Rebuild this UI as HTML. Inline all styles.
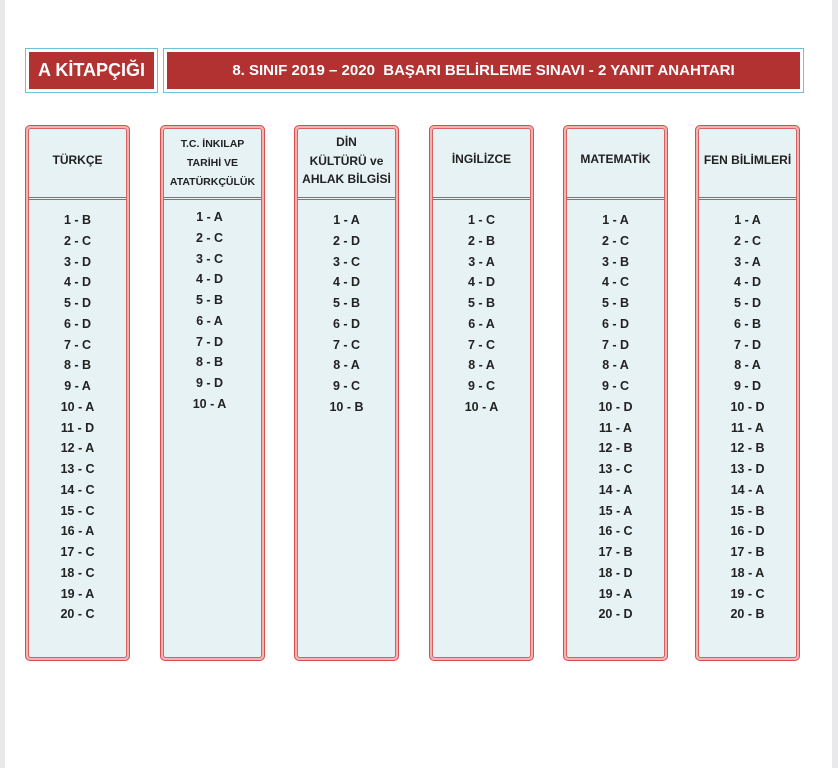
<!DOCTYPE html>
<html><head><meta charset="utf-8"><style>
body{margin:0;width:838px;height:768px;background:#fff;position:relative;overflow:hidden;font-family:"Liberation Sans",Arial,sans-serif;font-weight:bold;color:#222}
.edgeL{position:absolute;left:0;top:0;width:5px;height:768px;background:#e9e9ec}
.edgeR{position:absolute;right:0;top:0;width:6px;height:768px;background:#e9e9ec}
.hb{position:absolute;border:1px solid #6cc3d8;padding:3px;box-sizing:border-box}
.hb div{background:#b23232;color:#fff;height:100%;display:flex;align-items:center;justify-content:center}
.col{position:absolute;top:125px;width:105px;height:536px;box-sizing:border-box;border:1px solid #d84c4c;background:#f2b3b3;padding:2px;border-radius:5px}
.in{width:100%;height:100%;box-sizing:border-box;border:1px solid #d86060;background:#e7f2f5;border-radius:3px;position:relative}
.hd{position:absolute;left:0;right:0;top:0;height:71px;box-sizing:border-box;display:flex;align-items:center;justify-content:center;text-align:center;font-size:12px;border-bottom:3px double #777}
.ls{position:absolute;left:0;right:0;text-align:center;font-size:12.5px;line-height:20.75px}
</style></head><body>
<div class="edgeL"></div><div class="edgeR"></div>
<div class="hb" style="left:25px;top:48px;width:133px;height:45px"><div style="font-size:18px">A KİTAPÇIĞI</div></div>
<div class="hb" style="left:163px;top:48px;width:641px;height:45px"><div style="font-size:15px">8. SINIF 2019 – 2020 &nbsp;BAŞARI BELİRLEME SINAVI - 2 YANIT ANAHTARI</div></div>

<div class="col" style="left:25px"><div class="in"><div class="hd" style="padding-bottom:6px">TÜRKÇE</div>
<div class="ls" style="top:81px">1 - B<br>2 - C<br>3 - D<br>4 - D<br>5 - D<br>6 - D<br>7 - C<br>8 - B<br>9 - A<br>10 - A<br>11 - D<br>12 - A<br>13 - C<br>14 - C<br>15 - C<br>16 - A<br>17 - C<br>18 - C<br>19 - A<br>20 - C</div></div></div>

<div class="col" style="left:160px"><div class="in"><div class="hd" style="font-size:10.5px;line-height:19px">T.C. İNKILAP<br>TARİHİ VE<br>ATATÜRKÇÜLÜK</div>
<div class="ls" style="top:78px;right:6px">1 - A<br>2 - C<br>3 - C<br>4 - D<br>5 - B<br>6 - A<br>7 - D<br>8 - B<br>9 - D<br>10 - A</div></div></div>

<div class="col" style="left:294px"><div class="in"><div class="hd" style="line-height:18.5px;padding-bottom:4px">DİN<br>KÜLTÜRÜ ve<br>AHLAK BİLGİSİ</div>
<div class="ls" style="top:81px">1 - A<br>2 - D<br>3 - C<br>4 - D<br>5 - B<br>6 - D<br>7 - C<br>8 - A<br>9 - C<br>10 - B</div></div></div>

<div class="col" style="left:429px"><div class="in"><div class="hd" style="padding-bottom:8px">İNGİLİZCE</div>
<div class="ls" style="top:81px">1 - C<br>2 - B<br>3 - A<br>4 - D<br>5 - B<br>6 - A<br>7 - C<br>8 - A<br>9 - C<br>10 - A</div></div></div>

<div class="col" style="left:563px"><div class="in"><div class="hd" style="padding-bottom:8px">MATEMATİK</div>
<div class="ls" style="top:81px">1 - A<br>2 - C<br>3 - B<br>4 - C<br>5 - B<br>6 - D<br>7 - D<br>8 - A<br>9 - C<br>10 - D<br>11 - A<br>12 - B<br>13 - C<br>14 - A<br>15 - A<br>16 - C<br>17 - B<br>18 - D<br>19 - A<br>20 - D</div></div></div>

<div class="col" style="left:695px"><div class="in"><div class="hd" style="padding-bottom:6px">FEN BİLİMLERİ</div>
<div class="ls" style="top:81px">1 - A<br>2 - C<br>3 - A<br>4 - D<br>5 - D<br>6 - B<br>7 - D<br>8 - A<br>9 - D<br>10 - D<br>11 - A<br>12 - B<br>13 - D<br>14 - A<br>15 - B<br>16 - D<br>17 - B<br>18 - A<br>19 - C<br>20 - B</div></div></div>
</body></html>
